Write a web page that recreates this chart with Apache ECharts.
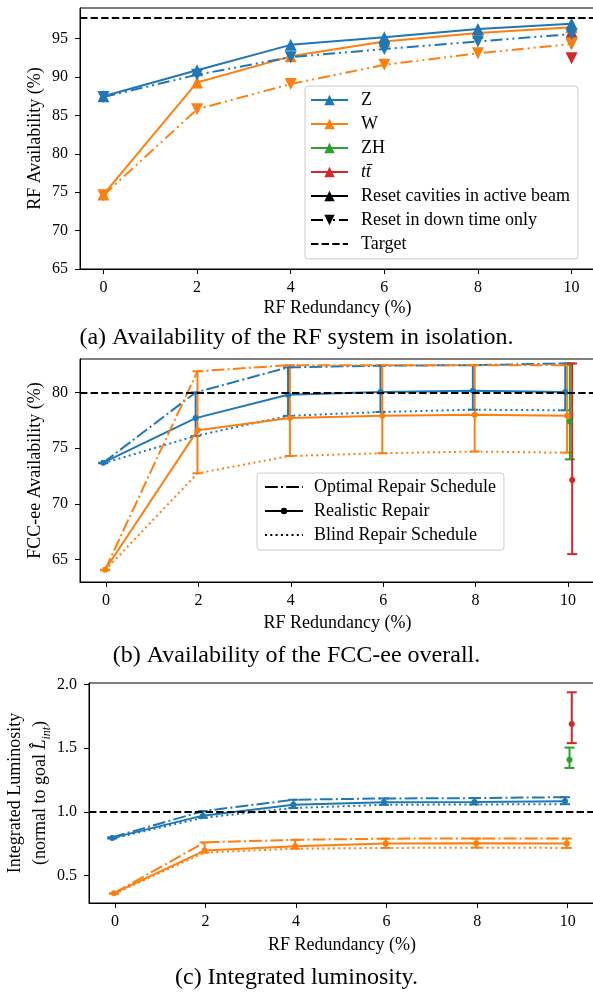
<!DOCTYPE html>
<html>
<head>
<meta charset="utf-8">
<script src="https://cdn.jsdelivr.net/npm/echarts@6/dist/echarts.min.js"></script>
<style>
  html, body { margin: 0; padding: 0; background: #fff; }
  #chart { width: 593px; height: 992px; }
</style>
</head>
<body>
<div id="chart"></div>
<script>
const FONT = "Liberation Serif";
const BLUE = "#1f77b4", ORANGE = "#ff7f0e", GREEN = "#2ca02c", RED = "#d62728";

const DASHED = [7.4, 3.2];
const DASHDOT = [12.8, 3.2, 2, 3.2];
const DOTTED = [2, 3.3];
const DASHDOTDOT = [12, 4, 2, 4, 2, 4];

const TT = "tt\u0304";

// x: RF redundancy (%)
const REDUNDANCY = [0, 2, 4, 6, 8, 10];
const LAST_X = [10];
const X_TICKS = [0, 2, 4, 6, 8, 10];

// (a) RF availability in isolation (%)
const A_Y_TICKS = [65, 70, 75, 80, 85, 90, 95];
const A_Z_ACTIVE = [87.5, 90.9, 94.2, 95.2, 96.25, 96.95];
const A_Z_DOWN = [87.4, 90.3, 92.6, 93.65, 94.65, 95.6];
const A_W_ACTIVE = [74.7, 89.3, 92.7, 94.65, 95.75, 96.5];
const A_W_DOWN = [74.6, 85.8, 89.1, 91.6, 93.1, 94.3];
const A_ZH_ACTIVE = [96.6];
const A_ZH_DOWN = [94.3];
const A_TT_ACTIVE = [95.9];
const A_TT_DOWN = [92.45];
const A_TARGET = 97.7;

// (b) FCC-ee availability (%)
const B_Y_TICKS = [65, 70, 75, 80];
const B_Z_OPT = [73.7, 80.0, 82.25, 82.4, 82.45, 82.6];
const B_Z_REAL = [73.7, 77.7, 79.8, 80.05, 80.15, 80.05];
const B_Z_BLIND = [73.65, 76.1, 77.9, 78.25, 78.45, 78.4];
const B_W_OPT = [64.1, 81.9, 82.45, 82.45, 82.45, 82.45];
const B_W_REAL = [64.1, 76.6, 77.7, 77.9, 78.0, 77.9];
const B_W_BLIND = [64.05, 72.75, 74.3, 74.55, 74.7, 74.6];
const B_ZH = [77.4], B_ZH_LO = [74.0], B_ZH_HI = [82.6];
const B_TT = [72.15], B_TT_LO = [65.5], B_TT_HI = [82.6];
const B_TARGET = 80;

// (c) integrated luminosity (normalised to goal)
const C_Y_TICKS = [0.5, 1.0, 1.5, 2.0];
const C_Z_OPT = [0.8, 1.005, 1.095, 1.105, 1.108, 1.115];
const C_Z_REAL = [0.795, 0.97, 1.055, 1.075, 1.078, 1.083];
const C_Z_BLIND = [0.79, 0.953, 1.03, 1.055, 1.058, 1.06];
const C_W_OPT = [0.36, 0.76, 0.78, 0.789, 0.79, 0.79];
const C_W_REAL = [0.36, 0.695, 0.73, 0.75, 0.752, 0.75];
const C_W_BLIND = [0.355, 0.68, 0.71, 0.716, 0.718, 0.716];
const C_ZH = [1.41], C_ZH_LO = [1.345], C_ZH_HI = [1.505];
const C_TT = [1.69], C_TT_LO = [1.54], C_TT_HI = [1.94];
const C_TARGET = 1.0;

// small horizontal offsets used in (b) and (c) so the bars don't overlap
const JIT = { Z: -0.06, W: -0.02, ZH: 0.04, TT: 0.09 };

function pts(xs, ys, dx = 0) {
  return ys.map((y, i) => [xs[i] + dx, y]);
}

function lineSeries(name, g, data, color, dash, symbol, size, rotate) {
  return {
    name, type: "line", xAxisIndex: g, yAxisIndex: g, data,
    symbol: symbol || "none", symbolSize: size || 0, symbolRotate: rotate || 0,
    showSymbol: !!symbol, showAllSymbol: true,
    lineStyle: { color, width: 2, type: dash },
    itemStyle: { color },
    emphasis: { disabled: true }, silent: true,
  };
}

function errorBars(name, g, xs, lo, hi, color, dx) {
  return {
    name, type: "custom", xAxisIndex: g, yAxisIndex: g, silent: true,
    data: xs.map((x, i) => [x + dx, lo[i], hi[i]]),
    encode: { x: 0, y: [1, 2] },
    renderItem: (params, api) => {
      const top = api.coord([api.value(0), api.value(2)]);
      const bot = api.coord([api.value(0), api.value(1)]);
      const st = { stroke: color, lineWidth: 2 };
      return { type: "group", children: [
        { type: "line", shape: { x1: top[0], y1: top[1], x2: bot[0], y2: bot[1] }, style: st },
        { type: "line", shape: { x1: top[0] - 5, y1: top[1], x2: top[0] + 5, y2: top[1] }, style: st },
        { type: "line", shape: { x1: bot[0] - 5, y1: bot[1], x2: bot[0] + 5, y2: bot[1] }, style: st },
      ] };
    },
  };
}

function targetSeries(name, g, value) {
  const s = lineSeries(name, g, [], "#000", DASHED);
  s.markLine = {
    silent: true, symbol: ["none", "none"], label: { show: false },
    lineStyle: { color: "#000", width: 2, type: DASHED },
    data: [{ yAxis: value }],
  };
  return s;
}

const tickText = { fontFamily: FONT, fontSize: 16, color: "#000" };
const nameText = { fontFamily: FONT, fontSize: 18, color: "#000" };

function xAxisFor(g, min, max, gap) {
  return {
    type: "value", gridIndex: g, min, max,
    name: "RF Redundancy (%)", nameLocation: "middle", nameGap: gap, nameMoveOverlap: false,
    nameTextStyle: nameText,
    axisLine: { show: true, onZero: false, lineStyle: { color: "#000", width: 1 } },
    axisTick: { show: true, length: 5, customValues: X_TICKS, lineStyle: { color: "#000" } },
    axisLabel: Object.assign({ customValues: X_TICKS, margin: 11 }, tickText),
    splitLine: { show: false },
  };
}

function yAxisFor(g, min, max, ticks, name, gap, extra) {
  return Object.assign({
    type: "value", gridIndex: g, min, max,
    name, nameLocation: "middle", nameGap: gap, nameMoveOverlap: false,
    nameTextStyle: nameText,
    axisLine: { show: true, onZero: false, lineStyle: { color: "#000", width: 1 } },
    axisTick: { show: true, length: 5, customValues: ticks, lineStyle: { color: "#000" } },
    axisLabel: Object.assign({ customValues: ticks, margin: 12 }, tickText),
    splitLine: { show: false },
  }, extra || {});
}

const legendBase = {
  orient: "vertical", selectedMode: false,
  backgroundColor: "rgba(255,255,255,0.8)", borderColor: "#ccc", borderWidth: 1, borderRadius: 3,
};

const chart = echarts.init(document.getElementById("chart"));

const series = [
  // (a) drawn back to front: tt, ZH, W, Z
  lineSeries(TT, 0, pts(LAST_X, A_TT_ACTIVE), RED, "solid", "triangle", 12),
  lineSeries("tt down", 0, pts(LAST_X, A_TT_DOWN), RED, DASHDOTDOT, "triangle", 12, 180),
  lineSeries("ZH", 0, pts(LAST_X, A_ZH_ACTIVE), GREEN, "solid", "triangle", 12),
  lineSeries("ZH down", 0, pts(LAST_X, A_ZH_DOWN), GREEN, DASHDOTDOT, "triangle", 12, 180),
  lineSeries("W", 0, pts(REDUNDANCY, A_W_ACTIVE), ORANGE, "solid", "triangle", 12),
  lineSeries("W down", 0, pts(REDUNDANCY, A_W_DOWN), ORANGE, DASHDOTDOT, "triangle", 12, 180),
  lineSeries("Z", 0, pts(REDUNDANCY, A_Z_ACTIVE), BLUE, "solid", "triangle", 12),
  lineSeries("Z down", 0, pts(REDUNDANCY, A_Z_DOWN), BLUE, DASHDOTDOT, "triangle", 12, 180),
  lineSeries("Reset cavities in active beam", 0, [], "#000", "solid", "triangle", 12),
  lineSeries("Reset in down time only", 0, [], "#000", DASHDOTDOT, "triangle", 12, 180),
  targetSeries("Target", 0, A_TARGET),

  // (b)
  targetSeries("b target", 1, B_TARGET),
  lineSeries("b Z opt", 1, pts(REDUNDANCY, B_Z_OPT, JIT.Z), BLUE, DASHDOT),
  lineSeries("b Z blind", 1, pts(REDUNDANCY, B_Z_BLIND, JIT.Z), BLUE, DOTTED),
  errorBars("b Z err", 1, REDUNDANCY, B_Z_BLIND, B_Z_OPT, BLUE, JIT.Z),
  lineSeries("b Z real", 1, pts(REDUNDANCY, B_Z_REAL, JIT.Z), BLUE, "solid", "circle", 6),
  lineSeries("b W opt", 1, pts(REDUNDANCY, B_W_OPT, JIT.W), ORANGE, DASHDOT),
  lineSeries("b W blind", 1, pts(REDUNDANCY, B_W_BLIND, JIT.W), ORANGE, DOTTED),
  errorBars("b W err", 1, REDUNDANCY, B_W_BLIND, B_W_OPT, ORANGE, JIT.W),
  lineSeries("b W real", 1, pts(REDUNDANCY, B_W_REAL, JIT.W), ORANGE, "solid", "circle", 6),
  errorBars("b ZH err", 1, LAST_X, B_ZH_LO, B_ZH_HI, GREEN, JIT.ZH),
  lineSeries("b ZH", 1, pts(LAST_X, B_ZH, JIT.ZH), GREEN, "solid", "circle", 6),
  errorBars("b tt err", 1, LAST_X, B_TT_LO, B_TT_HI, RED, JIT.TT),
  lineSeries("b tt", 1, pts(LAST_X, B_TT, JIT.TT), RED, "solid", "circle", 6),
  lineSeries("Optimal Repair Schedule", 1, [], "#000", DASHDOT),
  lineSeries("Realistic Repair", 1, [], "#000", "solid", "circle", 6),
  lineSeries("Blind Repair Schedule", 1, [], "#000", DOTTED),

  // (c)
  targetSeries("c target", 2, C_TARGET),
  lineSeries("c Z opt", 2, pts(REDUNDANCY, C_Z_OPT, JIT.Z), BLUE, DASHDOT),
  lineSeries("c Z blind", 2, pts(REDUNDANCY, C_Z_BLIND, JIT.Z), BLUE, DOTTED),
  errorBars("c Z err", 2, REDUNDANCY, C_Z_BLIND, C_Z_OPT, BLUE, JIT.Z),
  lineSeries("c Z real", 2, pts(REDUNDANCY, C_Z_REAL, JIT.Z), BLUE, "solid", "circle", 6),
  lineSeries("c W opt", 2, pts(REDUNDANCY, C_W_OPT, JIT.W), ORANGE, DASHDOT),
  lineSeries("c W blind", 2, pts(REDUNDANCY, C_W_BLIND, JIT.W), ORANGE, DOTTED),
  errorBars("c W err", 2, REDUNDANCY, C_W_BLIND, C_W_OPT, ORANGE, JIT.W),
  lineSeries("c W real", 2, pts(REDUNDANCY, C_W_REAL, JIT.W), ORANGE, "solid", "circle", 6),
  errorBars("c ZH err", 2, LAST_X, C_ZH_LO, C_ZH_HI, GREEN, JIT.ZH),
  lineSeries("c ZH", 2, pts(LAST_X, C_ZH, JIT.ZH), GREEN, "solid", "circle", 6),
  errorBars("c tt err", 2, LAST_X, C_TT_LO, C_TT_HI, RED, JIT.TT),
  lineSeries("c tt", 2, pts(LAST_X, C_TT, JIT.TT), RED, "solid", "circle", 6),
];

const captionStyle = { fontFamily: FONT, fontSize: 24, fontWeight: "normal", color: "#000", lineHeight: 26 };
const gridBase = { right: -2, show: true, borderColor: "#000", borderWidth: 1, outerBoundsMode: "none", containLabel: false };

chart.setOption({
  animation: false,
  backgroundColor: "#fff",
  title: [
    { text: "(a) Availability of the RF system in isolation.", left: "center", top: 325, padding: 0, textStyle: captionStyle },
    { text: "(b) Availability of the FCC-ee overall.", left: "center", top: 643, padding: 0, textStyle: captionStyle },
    { text: "(c) Integrated luminosity.", left: "center", top: 965, padding: 0, textStyle: captionStyle },
  ],
  grid: [
    Object.assign({ left: 80, top: 8, height: 261 }, gridBase),
    Object.assign({ left: 80, top: 359, height: 223 }, gridBase),
    Object.assign({ left: 89, top: 683, height: 220 }, gridBase),
  ],
  xAxis: [
    xAxisFor(0, -0.5, 10.5, 30),
    xAxisFor(1, -0.563, 10.584, 32),
    xAxisFor(2, -0.574, 10.603, 33),
  ],
  yAxis: [
    yAxisFor(0, 65, 99, A_Y_TICKS, "RF Availability (%)", 36),
    yAxisFor(1, 63, 83, B_Y_TICKS, "FCC-ee Availability (%)", 36),
    yAxisFor(2, 0.283, 2.013, C_Y_TICKS,
      "Integrated Luminosity\n(normal to goal {i|L\u0302}{s|int})", 36, {
        axisLabel: Object.assign({ customValues: C_Y_TICKS, margin: 12, formatter: v => v.toFixed(1) }, tickText),
        nameTextStyle: {
          fontFamily: FONT, fontSize: 18, color: "#000", lineHeight: 25,
          rich: {
            i: { fontFamily: FONT, fontSize: 18, fontStyle: "italic", color: "#000", lineHeight: 25 },
            s: { fontFamily: FONT, fontSize: 12, fontStyle: "italic", color: "#000", lineHeight: 25, verticalAlign: "bottom" },
          },
        },
      }),
  ],
  legend: [
    Object.assign({}, legendBase, {
      left: 305, top: 86, padding: [5, 8, 6, 5],
      itemWidth: 37, itemHeight: 13, itemGap: 6,
      textStyle: { fontFamily: FONT, fontSize: 18, color: "#000", lineHeight: 18, padding: [0, 0, 0, 8],
        rich: { it: { fontFamily: FONT, fontSize: 18, fontStyle: "italic", color: "#000" } } },
      formatter: n => (n === TT ? "{it|" + n + "}" : n),
      data: ["Z", "W", "ZH", TT, "Reset cavities in active beam", "Reset in down time only",
        { name: "Target", itemStyle: { opacity: 0 } }],
    }),
    Object.assign({}, legendBase, {
      left: 257, top: 473, padding: [5, 8, 6, 7],
      itemWidth: 38, itemHeight: 8, itemGap: 6,
      textStyle: { fontFamily: FONT, fontSize: 18, color: "#000", lineHeight: 18, padding: [0, 0, 0, 6] },
      data: [{ name: "Optimal Repair Schedule", itemStyle: { opacity: 0 } }, "Realistic Repair",
        { name: "Blind Repair Schedule", itemStyle: { opacity: 0 } }],
    }),
  ],
  series,
});
</script>
</body>
</html>
